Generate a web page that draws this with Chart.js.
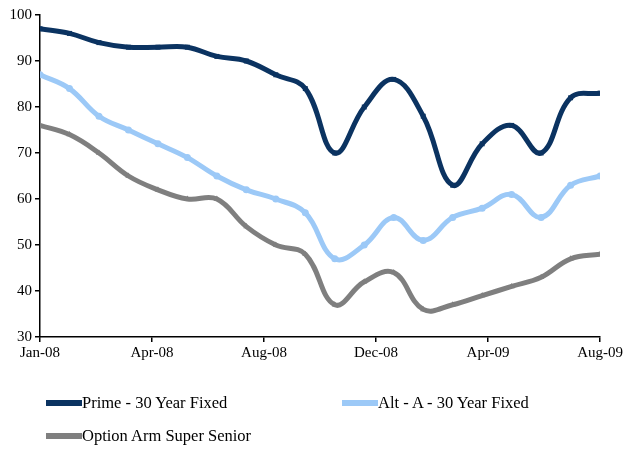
<!DOCTYPE html>
<html>
<head>
<meta charset="utf-8">
<script src="https://cdn.jsdelivr.net/npm/chart.js@4.4.1/dist/chart.umd.min.js"></script>
<style>
  body { margin: 0; background: #fff; }
  #wrap { position: relative; width: 625px; height: 449px; }
  .leg { position: absolute; font: 16.5px "Liberation Serif", "Times New Roman", serif; color: #000; white-space: nowrap; }
  .leg span.ln { display: inline-block; vertical-align: middle; height: 6px; position: relative; top: -1px; }
</style>
</head>
<body>
<div id="wrap">
  <canvas id="myChart" width="625" height="449"></canvas>
  <div id="legend"></div>
</div>
<script>
// monthly, Jan-08 .. Aug-09
var months = ['Jan-08', 'Feb-08', 'Mar-08', 'Apr-08', 'May-08', 'Jun-08', 'Jul-08', 'Aug-08', 'Sep-08', 'Oct-08',
    'Nov-08', 'Dec-08', 'Jan-09', 'Feb-09', 'Mar-09', 'Apr-09', 'May-09', 'Jun-09', 'Jul-09', 'Aug-09'];
var tickLabels = ['Jan-08', 'Apr-08', 'Aug-08', 'Dec-08', 'Apr-09', 'Aug-09'];

var prime = [97, 96, 94, 93, 93, 93, 91, 90, 87, 84, 70, 80, 86, 78, 63, 72, 76, 70, 82, 83];
var altA = [87, 84, 78, 75, 72, 69, 65, 62, 60, 57, 47, 50, 56, 51, 56, 58, 61, 56, 63, 65];
var optionArm = [76, 74, 70, 65, 62, 60, 60, 54, 50, 48, 37, 42, 44, 36, 37, 39, 41, 43, 47, 48];

var seriesNames = ['Prime - 30 Year Fixed', 'Alt - A - 30 Year Fixed', 'Option Arm Super Senior'];
var colors = ['#0b3361', '#9cc9f7', '#7f7f7f'];
var pointStyles = ['rect', 'circle', 'triangle'];

function toPoints(arr) {
    var pts = [];
    for (var i = 0; i < arr.length; i++) {
        pts.push({ x: i, y: arr[i] });
    }
    return pts;
}

var allSeries = [prime, altA, optionArm];
var datasets = [];
for (var s = 0; s < allSeries.length; s++) {
    datasets.push({
        label: seriesNames[s],
        data: toPoints(allSeries[s]),
        borderColor: colors[s],
        backgroundColor: colors[s],
        borderWidth: 5,
        tension: 0.4,
        pointStyle: pointStyles[s],
        pointRadius: 3.5,
        pointBorderWidth: 0,
        pointBackgroundColor: colors[s]
    });
}
datasets.reverse();

var serif = '"Liberation Serif", "Times New Roman", serif';
var lastIdx = months.length - 1;

var ctx = document.getElementById('myChart');
var myChart = new Chart(ctx, {
    type: 'line',
    data: { datasets: datasets },
    options: {
        responsive: false,
        animation: false,
        layout: { padding: { top: 15, left: 0, right: 21, bottom: 82 } },
        plugins: { legend: { display: false }, tooltip: { enabled: false } },
        scales: {
            x: {
                type: 'linear',
                min: 0,
                max: lastIdx,
                afterBuildTicks: function (scale) {
                    scale.ticks = tickLabels.map(function (t, i) {
                        return { value: i * lastIdx / (tickLabels.length - 1) };
                    });
                },
                afterFit: function (scale) { scale.height = 30; },
                ticks: {
                    color: '#000',
                    font: { family: serif, size: 15 },
                    maxRotation: 0,
                    padding: 2,
                    callback: function (v, i) { return tickLabels[i]; }
                },
                grid: { display: true, drawOnChartArea: false, drawTicks: true, tickLength: 5, color: '#000', lineWidth: 1.5 },
                border: { color: '#000', width: 1.5 }
            },
            y: {
                min: 30,
                max: 100,
                afterFit: function (scale) { scale.width = 40; },
                ticks: {
                    stepSize: 10,
                    color: '#000',
                    font: { family: serif, size: 15 },
                    padding: 3
                },
                grid: { display: true, drawOnChartArea: false, drawTicks: true, tickLength: 5, color: '#000', lineWidth: 1.5 },
                border: { color: '#000', width: 1.5 }
            }
        }
    }
});

// legend laid out like the original: two columns, two rows
var legPos = [[46, 393], [342, 393], [46, 426]];
var legHtml = '';
for (var k = 0; k < seriesNames.length; k++) {
    legHtml += '<div class="leg" style="left:' + legPos[k][0] + 'px;top:' + legPos[k][1] + 'px">' +
        '<span class="ln" style="width:36px;background:' + colors[k] + '"></span>' + seriesNames[k] + '</div>';
}
document.getElementById('legend').innerHTML = legHtml;
</script>
</body>
</html>
